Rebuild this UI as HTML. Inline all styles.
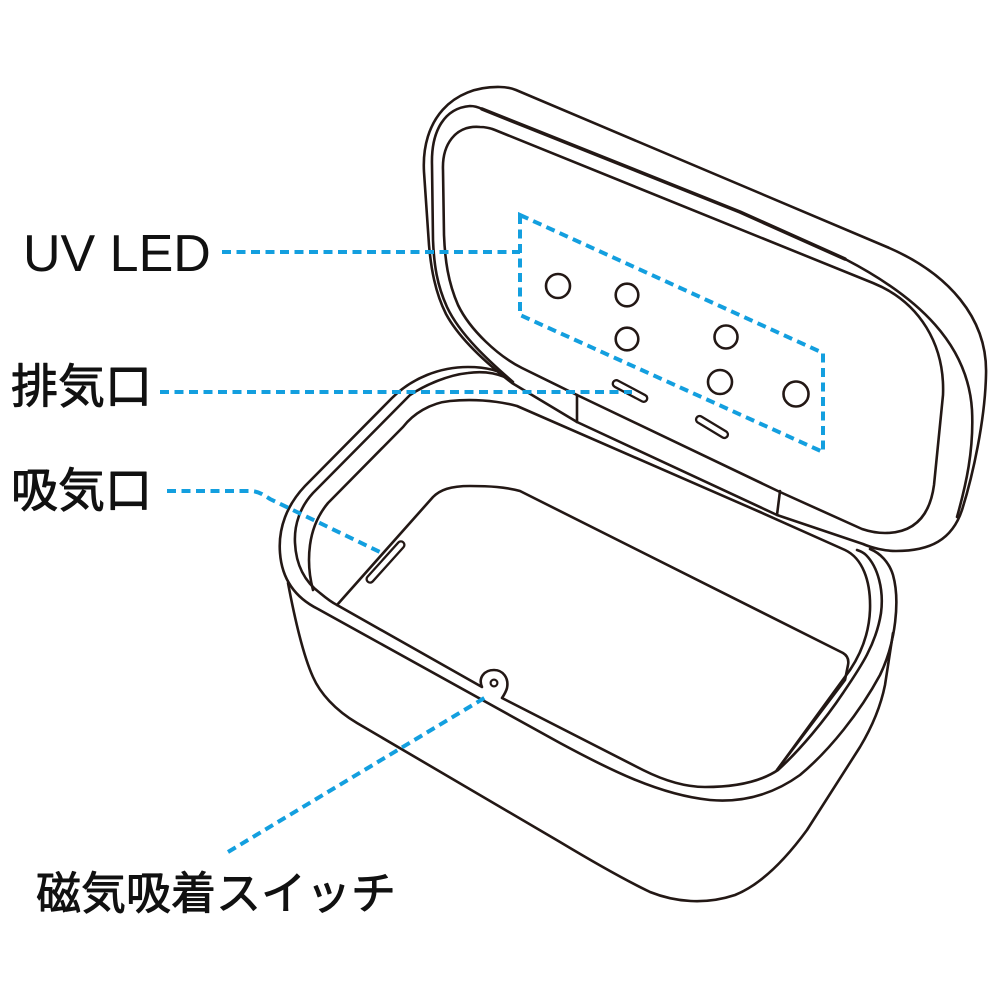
<!DOCTYPE html>
<html><head><meta charset="utf-8"><style>
html,body{margin:0;padding:0;background:#fff;}
svg{display:block;}
.k{fill:none;stroke:#231815;stroke-width:2.6;stroke-linejoin:round;stroke-linecap:round;}
.d{fill:none;stroke:#139fdf;stroke-width:4;stroke-dasharray:9 5.5;}
.t{font-family:"Liberation Sans","Noto Sans CJK JP",sans-serif;fill:#111;}
.j{font-family:"Liberation Sans","Noto Sans CJK JP",sans-serif;fill:#111;stroke:#111;stroke-width:0.9;stroke-linejoin:round;}
</style></head><body>
<svg width="1000" height="1000" viewBox="0 0 1000 1000" xmlns="http://www.w3.org/2000/svg">
<rect width="1000" height="1000" fill="#fff"/>
<!-- BASE body -->
<path class="k" d="M288,583 C295,620 303,655 313,677 C320,693 335,710 357,723 L560,842 C595,863 625,880 650,892 C675,902 705,905 735,895 C760,885 785,860 807,830 L860,747 C872,727 881,705 885,685 L893,633"/>
<!-- Base rim A -->
<path class="k" d="M513,382 C505,372 490,367 468,367 C440,367 412,378 392,398 L305,486 C287,505 278,528 280,553 C282,580 296,598 318,609 L560,743 C610,770 660,795 710,800 C745,803 775,793 800,775 C830,750 860,712 880,675 C896,642 900,600 893,575 C889,562 880,553 870,549"/>
<!-- Base rim B with bump -->
<path class="k" d="M505,377 C495,373 482,371 468,373 C448,375 425,385 410,395 L313,493 C300,507 294,525 295,543 C296,565 305,582 320,593 C326,598 331,602 337,605 L482,687 C478,678 484,670 494,670 C503,670 509,678 507,688 C506,692 504,695 502,698 L643,770 C665,781 685,787 705,787 C735,787 760,782 778,770 C800,750 825,720 843,693 C860,668 876,645 881,613 C884,590 878,567 866,555 C863,552 860,551 857,550"/>
<circle class="k" cx="494" cy="683" r="3.4" style="stroke-width:2.2"/>
<!-- Base inner wall C -->
<path class="k" d="M313,590 C309,575 308,560 310,545 C312,530 318,515 328,503 L403,427 C413,414 430,403 450,401 C470,399 495,400 517,406 L760,512 L845,550 C862,558 871,580 870,610 C869,635 860,655 850,670 L777,770"/>
<!-- Floor -->
<path class="k" d="M337,605 L433,497 C440,490 450,486 470,486 C490,486 505,487 520,491 L843,653 C848,656 849,660 848,665 L845,680 L777,770"/>
<!-- intake slot -->
<rect class="k" x="359" y="558.5" width="53" height="7" rx="3.5" transform="rotate(-48 385.5 562)" style="stroke-width:2.3;fill:#fff"/>
<!-- LID -->
<path class="k" style="fill:#fff" d="M512,383 C490,366 460,340 446,314 C435,292 431,268 429,245 L424,172 C421,120 452,86 500,87 C506,87 511,88 516,90 L887,247 C948,273 988,318 986,375 C985,420 973,475 962,510 C952,540 930,551 896,551 C885,551 872,548 863,544 L777,515 L577,422 Z"/>
<path class="k" d="M513,382 C490,362 460,335 447,307 C437,285 434,265 433,240 L432,165 C431,130 445,108 470,106 C474,106 478,107 482,109"/>
<path class="k" style="stroke-width:3.6" d="M482,109 L740,212 L845,259"/>
<path class="k" d="M845,259 C920,298 968,345 972,410 C974,450 966,485 957,517"/>
<path class="k" d="M577,395 L522,368 C498,356 470,330 458,305 C448,282 445,260 444,235 L443,170 C442,145 455,125 480,127 C486,127 490,128 495,130 L873,283 C920,302 945,345 943,395 L934,485 C930,515 915,533 885,533 C875,533 868,531 862,529 L780,492 Z"/>
<!-- hinge tab edges -->
<path class="k" d="M577,395 L577,422 M780,491 L777,515"/>
<!-- LEDs -->
<circle class="k" cx="558" cy="286" r="12"/>
<circle class="k" cx="627" cy="295" r="11.3"/>
<circle class="k" cx="627" cy="339" r="11.3"/>
<circle class="k" cx="726" cy="337" r="11.5"/>
<circle class="k" cx="720" cy="382" r="12"/>
<circle class="k" cx="796" cy="394" r="12.5"/>
<!-- exhaust slots -->
<rect class="k" x="611" y="387.5" width="38" height="7" rx="3.5" transform="rotate(28 630 391)" style="stroke-width:2.3"/>
<rect class="k" x="694" y="423.5" width="36" height="7" rx="3.5" transform="rotate(31 712 427)" style="stroke-width:2.3"/>
<!-- Dashed leaders -->
<path class="d" d="M222,252 H520"/>
<path class="d" d="M520,215 L823,353 L823,452 L520,315 Z"/>
<path class="d" d="M160,392 H632"/>
<path class="d" d="M167,491 H250 C258,491 262,494 270,499 L382,553"/>
<path class="d" d="M228,852 L486,697"/>
<!-- Labels -->
<text class="t" x="23" y="271" font-size="52">UV LED</text>
<text class="j" x="11" y="403" font-size="47">排気口</text>
<text class="j" x="11" y="507" font-size="47">吸気口</text>
<text class="j" x="36" y="909" font-size="45">磁気吸着スイッチ</text>
</svg>
</body></html>
